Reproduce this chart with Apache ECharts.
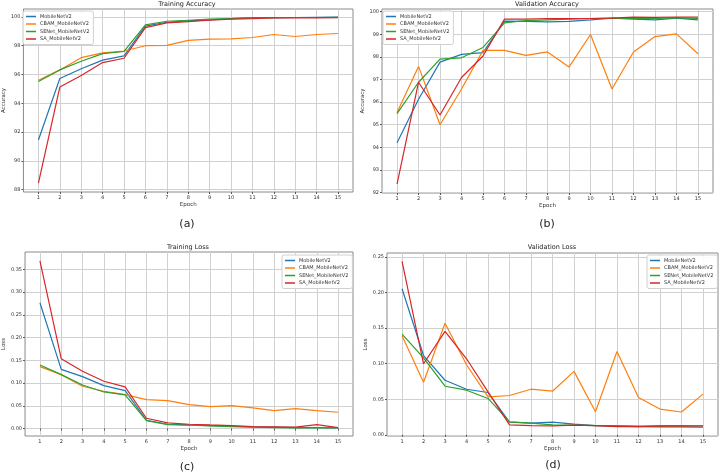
<!DOCTYPE html>
<html><head><meta charset="utf-8">
<script src="https://cdn.jsdelivr.net/npm/echarts@6/dist/echarts.min.js"></script>
<style>html,body{margin:0;padding:0;background:#fff}#c{width:719px;height:475px}</style>
</head><body><div id="c"></div>
<script>
const epochs = [1,2,3,4,5,6,7,8,9,10,11,12,13,14,15];
const seriesNames = ['MobileNetV2','CBAM_MobileNetV2','SENet_MobileNetV2','SA_MobileNetV2'];
const colors = ['#1f77b4','#ff7f0e','#2ca02c','#d62728'];

// (a) Training Accuracy
const trainAcc_Mobile = [91.45,95.72,96.4,97.0,97.29,99.36,99.63,99.72,99.8,99.88,99.95,99.95,99.96,99.97,99.98];
const trainAcc_CBAM   = [95.6,96.32,97.17,97.5,97.63,98.0,98.02,98.37,98.46,98.48,98.57,98.78,98.64,98.78,98.85];
const trainAcc_SENet  = [95.52,96.32,96.92,97.45,97.6,99.45,99.7,99.77,99.84,99.88,99.93,99.95,99.96,99.96,99.97];
const trainAcc_SA     = [88.46,95.13,95.93,96.83,97.13,99.26,99.59,99.68,99.77,99.84,99.88,99.93,99.93,99.94,99.95];
// (b) Validation Accuracy
const valAcc_Mobile = [94.2,96.13,97.77,98.11,98.19,99.58,99.57,99.55,99.57,99.64,99.72,99.67,99.64,99.72,99.64];
const valAcc_CBAM   = [95.54,97.58,95.0,96.58,98.29,98.29,98.07,98.22,97.55,98.99,96.58,98.22,98.9,99.02,98.14];
const valAcc_SENet  = [95.49,96.88,97.9,97.96,98.42,99.51,99.61,99.64,99.67,99.7,99.72,99.7,99.7,99.73,99.7];
const valAcc_SA     = [92.37,96.88,95.43,97.09,98.04,99.67,99.67,99.7,99.69,99.7,99.72,99.76,99.75,99.76,99.76];
// (c) Training Loss
const trainLoss_Mobile = [0.2767,0.1303,0.1142,0.0944,0.0835,0.0183,0.0095,0.008,0.0066,0.0051,0.0037,0.003,0.0022,0.0022,0.0015];
const trainLoss_CBAM   = [0.1362,0.1186,0.093,0.082,0.0747,0.0637,0.0615,0.0527,0.0483,0.0505,0.0454,0.0395,0.0439,0.0395,0.0359];
const trainLoss_SENet  = [0.1398,0.1186,0.0959,0.0805,0.0739,0.0176,0.0088,0.0073,0.0059,0.0044,0.003,0.0022,0.0015,0.0015,0.0015];
const trainLoss_SA     = [0.369,0.1537,0.1259,0.104,0.0915,0.0227,0.0124,0.0095,0.008,0.0066,0.0044,0.0037,0.003,0.0088,0.0022];
// (d) Validation Loss
const valLoss_Mobile = [0.2054,0.1115,0.0767,0.0641,0.0595,0.0177,0.0163,0.0177,0.0149,0.013,0.0121,0.0116,0.013,0.013,0.0125];
const valLoss_CBAM   = [0.1394,0.0739,0.157,0.0985,0.0534,0.0553,0.0641,0.0613,0.0892,0.0325,0.1171,0.0525,0.0362,0.0321,0.0572];
const valLoss_SENet  = [0.1417,0.1083,0.0683,0.0627,0.0511,0.0181,0.0163,0.0139,0.0135,0.013,0.013,0.0121,0.0121,0.0121,0.013];
const valLoss_SA     = [0.244,0.0999,0.1455,0.1069,0.0604,0.0139,0.013,0.0125,0.0135,0.013,0.0116,0.0116,0.0112,0.0112,0.0107];

// tick labels
const accTicksA = [88,90,92,94,96,98,100];
const accTicksB = [92,93,94,95,96,97,98,99,100];
const lossTicksC = [0,0.05,0.10,0.15,0.20,0.25,0.30,0.35];
const lossTicksD = [0,0.05,0.10,0.15,0.20,0.25];

const titles = ['Training Accuracy','Validation Accuracy','Training Loss','Validation Loss'];
const captions = ['(a)','(b)','(c)','(d)'];
const yNames = ['Accuracy','Accuracy','Loss','Loss'];

const panels = [
  {data:[trainAcc_Mobile,trainAcc_CBAM,trainAcc_SENet,trainAcc_SA], ticks:accTicksA, ymin:87.84, ymax:100.55, fmt:v=>String(v),
   grid:{left:21,top:9,width:332,height:183}, legend:{left:23,top:11}, titleX:187, titleY:1, capX:187, capY:219, yGap:16, xGap:10},
  {data:[valAcc_Mobile,valAcc_CBAM,valAcc_SENet,valAcc_SA], ticks:accTicksB, ymin:91.98, ymax:100.12, fmt:v=>String(v),
   grid:{left:382,top:9,width:331,height:184}, legend:{left:383,top:11}, titleX:547, titleY:1, capX:547, capY:219, yGap:16, xGap:10},
  {data:[trainLoss_Mobile,trainLoss_CBAM,trainLoss_SENet,trainLoss_SA], ticks:lossTicksC, ymin:-0.0164, ymax:0.3884, fmt:v=>v.toFixed(2),
   grid:{left:23,top:252,width:330,height:184}, legend:{left:282,top:255}, titleX:188, titleY:244, capX:187, capY:462, yGap:17, xGap:10},
  {data:[valLoss_Mobile,valLoss_CBAM,valLoss_SENet,valLoss_SA], ticks:lossTicksD, ymin:-0.0017, ymax:0.2557, fmt:v=>v.toFixed(2),
   grid:{left:387,top:253,width:331,height:183}, legend:{left:647,top:255}, titleX:552, titleY:244, capX:553, capY:460, yGap:13, xGap:10}
];

const option = {animation:false, backgroundColor:'#fff', title:[], grid:[], xAxis:[], yAxis:[], legend:[], series:[]};
const tickFont = {fontFamily:'DejaVu Sans', fontSize:5, color:'#333'};

panels.forEach((p,i)=>{
  option.grid.push(Object.assign({show:true, borderColor:'#8a8a8a', borderWidth:1, backgroundColor:'#fff'}, p.grid));
  option.title.push({text:titles[i], left:p.titleX, top:p.titleY, textAlign:'center', padding:0,
    textStyle:{fontFamily:'DejaVu Sans', fontSize:6.5, fontWeight:'normal', color:'#222'}});
  option.title.push({text:captions[i], left:p.capX, top:p.capY, textAlign:'center', padding:0,
    textStyle:{fontFamily:'DejaVu Sans', fontSize:11, fontWeight:'normal', color:'#222'}});
  option.xAxis.push({type:'value', gridIndex:i, min:0.3, max:15.7, name:'Epoch', nameLocation:'middle', nameGap:p.xGap,
    nameTextStyle:{fontFamily:'DejaVu Sans', fontSize:5.5, color:'#333'},
    axisLine:{show:false},
    axisTick:{show:true, customValues:epochs, length:2, lineStyle:{color:'#555'}},
    axisLabel:{customValues:epochs, margin:3, ...tickFont},
    splitLine:{show:true, lineStyle:{color:'#d0d0d0', width:1}}});
  option.yAxis.push({type:'value', gridIndex:i, min:p.ymin, max:p.ymax, name:yNames[i], nameLocation:'middle', nameGap:p.yGap,
    nameTextStyle:{fontFamily:'DejaVu Sans', fontSize:5.5, color:'#333'},
    axisLine:{show:false},
    axisTick:{show:true, customValues:p.ticks, length:2, lineStyle:{color:'#555'}},
    axisLabel:{customValues:p.ticks, margin:3, formatter:p.fmt, ...tickFont},
    splitLine:{show:true, lineStyle:{color:'#d0d0d0', width:1}}});
  option.legend.push({orient:'vertical', left:p.legend.left, top:p.legend.top, data:seriesNames,
    icon:'rect', itemWidth:10, itemHeight:1.5, itemGap:2.5, padding:[3,4,3,3],
    backgroundColor:'rgba(255,255,255,0.9)', borderColor:'#d0d0d0', borderWidth:1, borderRadius:2,
    textStyle:{fontFamily:'DejaVu Sans', fontSize:5, color:'#333', padding:[0,0,0,-1]}});
  p.data.forEach((arr,k)=>{
    option.series.push({type:'line', name:seriesNames[k], xAxisIndex:i, yAxisIndex:i,
      data:epochs.map((e,j)=>[e,arr[j]]), symbol:'none', showSymbol:false,
      lineStyle:{width:1.2, color:colors[k]}, itemStyle:{color:colors[k]}, z:2+k});
  });
});

const chart = echarts.init(document.getElementById('c'), null, {renderer:'canvas'});
chart.setOption(option);
</script></body></html>
